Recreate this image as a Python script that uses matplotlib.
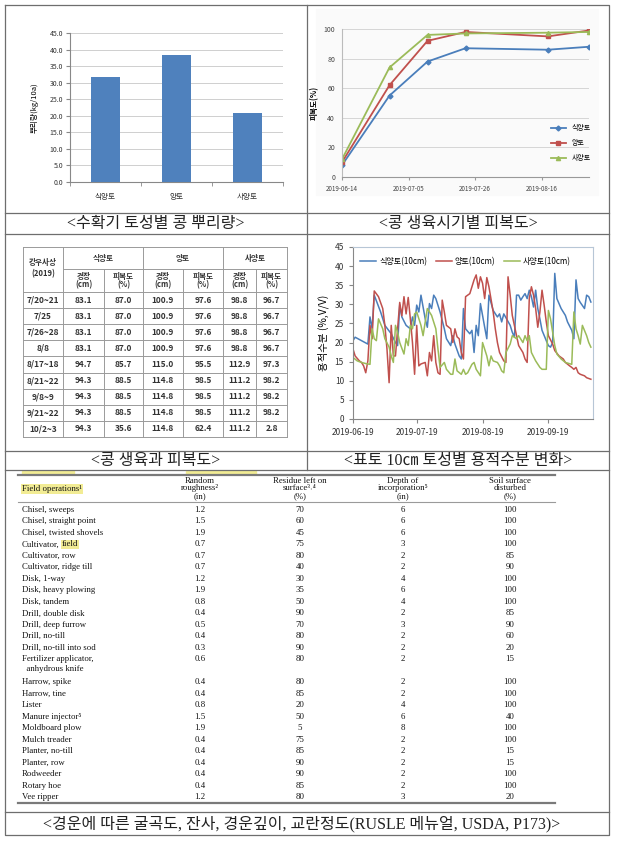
import numpy as np
import matplotlib
matplotlib.use('Agg')
import matplotlib.pyplot as plt
import matplotlib.dates as mdates

plt.rcParams['font.family'] = ['Noto Sans CJK KR', 'DejaVu Sans']

W, H = 619, 844

# panel 1: root weight by soil texture at harvest
soil_types = ['식양토', '양토', '사양토']
root_weight = [31.7, 38.4, 20.8]

# panel 2: ground cover over the growth period
cover_dates = ['2019-06-14', '2019-06-29', '2019-07-11', '2019-07-23', '2019-08-18', '2019-08-31']
cover_clay_loam = [8, 55, 78, 87, 86, 88]
cover_loam = [10, 62, 92, 98, 95, 99]
cover_sandy_loam = [12, 74, 96, 97, 97.5, 98]

# panel 3: growth / cover table
rain_events = ['7/20~21', '7/25', '7/26~28', '8/8', '8/17~18', '8/21~22', '9/8~9', '9/21~22', '10/2~3']
stem_clay_loam = ['83.1', '83.1', '83.1', '83.1', '94.7', '94.3', '94.3', '94.3', '94.3']
cov_clay_loam = ['87.0', '87.0', '87.0', '87.0', '85.7', '88.5', '88.5', '88.5', '35.6']
stem_loam = ['100.9', '100.9', '100.9', '100.9', '115.0', '114.8', '114.8', '114.8', '114.8']
cov_loam = ['97.6', '97.6', '97.6', '97.6', '95.5', '98.5', '98.5', '98.5', '62.4']
stem_sandy = ['98.8', '98.8', '98.8', '98.8', '112.9', '111.2', '111.2', '111.2', '111.2']
cov_sandy = ['96.7', '96.7', '96.7', '96.7', '97.3', '98.2', '98.2', '98.2', '2.8']

# panel 4: soil moisture at 10 cm (days after 2019-06-19)
sm_days_clay = [0, 1, 7, 8, 9, 10, 13, 15, 18, 20, 21, 22, 23, 25, 27, 28, 29, 30, 31, 32, 34, 35, 36, 37,
                38, 39, 41, 43, 44, 46, 47, 48, 50, 51, 52, 53, 55, 56, 57, 58, 59, 60, 62, 63, 64, 66,
                68, 69, 70, 71, 74, 75, 76, 77, 78, 79, 80, 81, 82, 83, 84, 85, 86, 87, 88, 89, 91, 92,
                93, 94, 95, 96, 98, 100, 101, 103, 104, 105, 106, 107, 109, 110, 111, 112]
sm_clay = [20.5, 21.4, 19.6, 26.7, 23.6, 32.4, 28.0, 24.5, 22.3, 20.0, 19.2, 29.8, 26.7, 24.5, 23.6, 26.7,
           24.5, 29.8, 28.0, 32.4, 26.2, 24.0, 30.2, 28.9, 32.4, 31.5, 28.0, 23.6, 21.0, 19.2, 21.8, 19.6,
           16.5, 15.7, 28.9, 23.6, 22.3, 23.2, 17.4, 24.5, 21.8, 30.2, 24.0, 21.0, 32.4, 28.4, 26.7, 27.5,
           25.4, 27.5, 24.5, 22.7, 21.4, 32.4, 32.4, 31.1, 32.0, 32.8, 31.5, 33.7, 32.0, 29.3, 33.7, 28.9,
           26.2, 23.2, 20.5, 19.2, 18.8, 20.0, 38.1, 31.5, 28.9, 27.1, 25.4, 23.2, 21.0, 36.4, 31.5, 30.5,
           28.9, 32.4, 32.0, 30.6]
sm_days_loam = [0, 1, 3, 4, 5, 6, 7, 8, 9, 10, 12, 14, 15, 16, 17, 18, 19, 20, 21, 22, 23, 24, 25, 26, 27,
                28, 29, 30, 31, 32, 34, 35, 36, 37, 38, 39, 40, 41, 42, 43, 44, 46, 47, 48, 49, 50, 51,
                52, 53, 55, 56, 57, 58, 59, 60, 61, 62, 63, 64, 66, 67, 68, 69, 71, 72, 73, 74, 75, 77,
                78, 80, 81, 82, 83, 84, 85, 86, 87, 88, 89, 90, 91, 92, 94, 95, 97, 99, 100, 102, 103,
                104, 105, 106, 107, 109, 110, 112]
sm_loam = [18.3, 16.5, 15.2, 14.8, 13.9, 12.1, 15.2, 24.5, 21.0, 33.5, 32.0, 28.9, 24.5, 18.3, 9.5, 24.5,
           16.5, 16.5, 23.6, 30.5, 27.0, 32.0, 27.5, 31.8, 26.2, 20.0, 11.7, 24.5, 13.9, 14.4, 14.8, 11.3,
           17.4, 15.2, 21.8, 14.8, 12.1, 11.7, 31.1, 28.0, 24.5, 23.6, 20.0, 23.6, 21.5, 21.0, 17.4, 15.7,
           32.0, 32.8, 34.6, 36.4, 37.7, 34.2, 37.2, 35.5, 31.5, 37.0, 34.6, 28.0, 23.6, 20.0, 17.4, 15.2,
           14.8, 37.2, 32.4, 27.1, 21.8, 19.2, 17.4, 15.7, 14.8, 31.5, 34.6, 32.4, 28.9, 24.0, 28.0, 33.7,
           29.8, 25.4, 21.8, 19.6, 17.9, 16.5, 15.7, 14.8, 13.9, 13.5, 13.0, 13.5, 12.1, 11.7, 11.3, 10.8,
           10.4]
sm_days_sandy = [0, 2, 4, 6, 8, 9, 10, 11, 12, 14, 15, 17, 18, 19, 20, 21, 22, 24, 25, 26, 27, 28, 29, 30,
                 32, 33, 34, 35, 37, 39, 40, 41, 43, 44, 46, 47, 48, 49, 51, 52, 53, 54, 56, 57, 58, 60,
                 61, 63, 64, 65, 66, 68, 69, 70, 71, 72, 74, 75, 77, 78, 80, 81, 82, 83, 84, 86, 88, 89,
                 91, 92, 93, 95, 96, 98, 100, 103, 104, 105, 106, 107, 108, 110, 111, 112]
sm_sandy = [16.1, 15.2, 14.8, 14.5, 14.3, 23.6, 21.0, 20.5, 26.2, 23.6, 21.0, 18.8, 16.5, 14.8, 24.5, 22.7,
            20.0, 17.0, 21.0, 19.2, 24.5, 23.6, 27.5, 28.0, 24.5, 21.8, 25.4, 28.9, 27.1, 23.6, 18.3, 13.5,
            14.8, 13.0, 11.7, 11.7, 15.7, 12.6, 11.7, 13.0, 11.7, 12.1, 14.3, 14.8, 13.0, 11.3, 20.0, 16.5,
            13.9, 16.5, 15.2, 14.8, 13.9, 12.6, 12.1, 17.4, 19.6, 21.8, 21.0, 21.8, 20.0, 21.8, 20.5, 21.8,
            17.4, 15.2, 13.5, 13.0, 13.0, 28.4, 26.2, 19.2, 17.0, 15.7, 14.8, 14.3, 28.0, 23.6, 21.8, 19.6,
            24.5, 21.8, 20.0, 18.8]

# bottom table: RUSLE field operations
operations = ['Chisel, sweeps', 'Chisel, straight point', 'Chisel, twisted shovels', 'Cultivator, field',
              'Cultivator, row', 'Cultivator, ridge till', 'Disk, 1-way', 'Disk, heavy plowing',
              'Disk, tandem', 'Drill, double disk', 'Drill, deep furrow', 'Drill, no-till',
              'Drill, no-till into sod', 'Fertilizer applicator,\n  anhydrous knife', 'Harrow, spike',
              'Harrow, tine', 'Lister', 'Manure injector⁵', 'Moldboard plow', 'Mulch treader',
              'Planter, no-till', 'Planter, row', 'Rodweeder', 'Rotary hoe', 'Vee ripper']
roughness = ['1.2', '1.5', '1.9', '0.7', '0.7', '0.7', '1.2', '1.9', '0.8', '0.4', '0.5', '0.4', '0.3',
             '0.6', '0.4', '0.4', '0.8', '1.5', '1.9', '0.4', '0.4', '0.4', '0.4', '0.4', '1.2']
residue = ['70', '60', '45', '75', '80', '40', '30', '35', '50', '90', '70', '80', '90', '80', '80', '85',
           '20', '50', '5', '75', '85', '90', '90', '85', '80']
depth = ['6', '6', '6', '3', '2', '2', '4', '6', '4', '2', '3', '2', '2', '2', '2', '2', '4', '6', '8', '2',
         '2', '2', '2', '2', '3']
disturbed = ['100', '100', '100', '100', '85', '90', '100', '100', '100', '85', '90', '60', '20', '15',
             '100', '100', '100', '40', '100', '100', '15', '15', '100', '100', '20']

captions = ['<수확기 토성별 콩 뿌리량>', '<콩 생육시기별 피복도>', '<콩 생육과 피복도>',
            '<표토 10㎝ 토성별 용적수분 변화>',
            '<경운에 따른 굴곡도, 잔사, 경운깊이, 교란정도(RUSLE 메뉴얼, USDA, P173)>']

BLUE, RED, GREEN = '#4a7ebb', '#c0504d', '#9bbb59'
CAP_FONT = ['Liberation Serif', 'Noto Sans CJK KR']
TAB_FONT = ['Liberation Serif', 'DejaVu Serif']


def px_axes(fig, x0, y0, x1, y1):
    return fig.add_axes([x0 / W, 1 - y1 / H, (x1 - x0) / W, (y1 - y0) / H])


fig = plt.figure(figsize=(W / 100, H / 100), dpi=100)
bg = fig.add_axes([0, 0, 1, 1])
bg.set_xlim(0, W)
bg.set_ylim(H, 0)
bg.axis('off')

# frame of the composite
frame = dict(color='#6e6e6e', lw=0.9)
bg.plot([5, 609, 609, 5, 5], [5, 5, 835, 835, 5], **frame)
bg.plot([307, 307], [5, 470], **frame)
for yy in [213, 234, 451, 470, 812]:
    bg.plot([5, 609], [yy, yy], **frame)

cap = dict(ha='center', va='center', fontsize=11.5, family=CAP_FONT, color='#222')
bg.text(156, 224, captions[0], **cap)
bg.text(458, 224, captions[1], **cap)
bg.text(156, 461, captions[2], **cap)
bg.text(458, 461, captions[3], **cap)
bg.text(302, 824, captions[4], **cap)

# ---------- panel 1: bar chart
ax1 = px_axes(fig, 70, 33, 283, 182)
xs = np.arange(len(soil_types))
ax1.bar(xs, root_weight, width=0.4, color='#4f81bd', zorder=3)
ax1.set_xlim(-0.5, 2.5)
ax1.set_ylim(0, 45)
ax1.set_yticks(np.arange(0, 46, 5))
ax1.set_yticklabels([f'{v:.1f}' for v in np.arange(0, 46, 5)], fontsize=5, color='#333')
ax1.set_xticks(xs)
ax1.set_xticklabels(soil_types, fontsize=5.5, color='#333')
ax1.set_xticks([-0.5, 0.5, 1.5, 2.5], minor=True)
ax1.tick_params(axis='x', which='major', length=0, pad=8)
ax1.tick_params(axis='x', which='minor', length=3, color='#888')
ax1.tick_params(axis='y', length=3, color='#888', pad=2)
ax1.grid(axis='y', color='#c8c8c8', lw=0.6, zorder=0)
for s in ['top', 'right']:
    ax1.spines[s].set_visible(False)
ax1.spines['left'].set_color('#888')
ax1.spines['bottom'].set_color('#888')
ax1.set_ylabel('뿌리량(kg/10a)', fontsize=5.5, labelpad=8)

# ---------- panel 2: ground cover lines
bg.add_patch(plt.Rectangle((316, 9), 282, 186, color='#fafafa', zorder=0))
ax2 = px_axes(fig, 342, 29, 589, 177)
ax2.set_facecolor('#fafafa')
dts = np.array(cover_dates, dtype='datetime64[D]')
ax2.plot(dts, cover_clay_loam, color=BLUE, lw=1.3, marker='D', ms=2.5, label='식양토')
ax2.plot(dts, cover_loam, color=RED, lw=1.3, marker='s', ms=3, label='양토')
ax2.plot(dts, cover_sandy_loam, color=GREEN, lw=1.3, marker='^', ms=3, label='사양토')
ax2.set_ylim(0, 100)
ax2.set_yticks(range(0, 101, 20))
ax2.set_xlim(dts[0], dts[-1])
ax2.set_xticks(np.array(['2019-06-14', '2019-07-05', '2019-07-26', '2019-08-16'], dtype='datetime64[D]'))
ax2.xaxis.set_major_formatter(mdates.DateFormatter('%Y-%m-%d'))
ax2.tick_params(axis='x', labelsize=4.5, length=2, color='#999', labelcolor='#444', pad=4)
ax2.tick_params(axis='y', labelsize=5, length=0, labelcolor='#444', pad=5)
ax2.grid(axis='y', color='#d0d0d0', lw=0.6)
for s in ['top', 'right']:
    ax2.spines[s].set_visible(False)
ax2.spines['left'].set_color('#bbb')
ax2.spines['bottom'].set_color('#999')
ax2.set_ylabel('피복도(%)', fontsize=5.5, labelpad=3, weight='bold')
ax2.legend(loc='upper left', bbox_to_anchor=(0.82, 0.4), frameon=False, fontsize=5,
           handlelength=2.2, labelspacing=1.0)

# ---------- panel 3: table
cx = [23, 63, 104, 143, 183, 223, 256, 287]
ry = [247, 269, 292] + [292 + 16.1 * (i + 1) for i in range(9)]
tl = dict(color='#9a9a9a', lw=0.7)
for yy in [ry[0], ry[2]] + ry[3:]:
    bg.plot([cx[0], cx[-1]], [yy, yy], **tl)
bg.plot([cx[1], cx[-1]], [ry[1], ry[1]], **tl)
for xx in [cx[0], cx[1], cx[3], cx[5], cx[7]]:
    bg.plot([xx, xx], [ry[0], ry[-1]], **tl)
for xx in [cx[2], cx[4], cx[6]]:
    bg.plot([xx, xx], [ry[1], ry[-1]], **tl)

hd = dict(ha='center', va='center', fontsize=5.5, color='#333', weight='bold')
bg.text(43, 262, '강우사상', **hd)
bg.text(43, 274, '(2019)', **hd)
for (a, b), name in zip([(1, 3), (3, 5), (5, 7)], soil_types):
    bg.text((cx[a] + cx[b]) / 2, 258, name, **hd)
    bg.text((cx[a] + cx[a + 1]) / 2, 280.5, '경장\n(cm)', linespacing=1.0, **hd)
    bg.text((cx[a + 1] + cx[b]) / 2, 280.5, '피복도\n(%)', linespacing=1.0, **hd)
cols = [rain_events, stem_clay_loam, cov_clay_loam, stem_loam, cov_loam, stem_sandy, cov_sandy]
for j, col in enumerate(cols):
    xc = (cx[j] + cx[j + 1]) / 2
    for i, v in enumerate(col):
        bg.text(xc, (ry[i + 2] + ry[i + 3]) / 2, v, ha='center', va='center', fontsize=6,
                color='#333', weight='bold')

# ---------- panel 4: soil moisture
ax4 = px_axes(fig, 353, 247, 593, 419)
base = np.datetime64('2019-06-19')
ax4.plot(base + np.array(sm_days_clay).astype('timedelta64[D]'), sm_clay, color=BLUE, lw=1.1,
         label='식양토(10cm)')
ax4.plot(base + np.array(sm_days_loam).astype('timedelta64[D]'), sm_loam, color=RED, lw=1.1,
         label='양토(10cm)')
ax4.plot(base + np.array(sm_days_sandy).astype('timedelta64[D]'), sm_sandy, color=GREEN, lw=1.1,
         label='사양토(10cm)')
ax4.set_ylim(0, 45)
ax4.set_yticks(range(0, 46, 5))
ax4.set_xlim(base, base + np.timedelta64(113, 'D'))
ax4.set_xticks(np.array(['2019-06-19', '2019-07-19', '2019-08-19', '2019-09-19'], dtype='datetime64[D]'))
ax4.xaxis.set_major_formatter(mdates.DateFormatter('%Y-%m-%d'))
ax4.tick_params(labelsize=6, labelcolor='#333', length=3, color='#888')
for s in ax4.spines.values():
    s.set_color('#b7c6d6')
ax4.spines['left'].set_color('#888')
ax4.spines['bottom'].set_color('#888')
ax4.set_ylabel('용적수분 (%,V/V)', fontsize=7.5, labelpad=4)
ax4.legend(loc='upper left', bbox_to_anchor=(0.0, 0.985), ncol=3, frameon=False, fontsize=5.8,
           handlelength=2.0, columnspacing=1.0, handletextpad=0.4)

# ---------- bottom table
HL = '#f2ec94'
bt = dict(fontsize=6.3, color='#111', family=TAB_FONT)
col_x = [200, 300, 403, 510]
# sliver of the highlighted row cut off above the table
bg.add_patch(plt.Rectangle((22, 471), 52, 2.5, color=HL, zorder=1))
bg.add_patch(plt.Rectangle((186, 471), 70, 2.5, color=HL, zorder=1))
bg.plot([18, 555], [475, 475], color='#7a7a7a', lw=1.6)
bg.plot([18, 555], [502, 502], color='#9a9a9a', lw=0.8)
bg.plot([18, 555], [803, 803], color='#7a7a7a', lw=1.6)

bg.text(22, 489, 'Field operations¹', ha='left', va='center',
        bbox=dict(facecolor=HL, edgecolor='none', pad=0.6), **bt)
heads = [['Random', 'roughness²', '(in)'], ['Residue left on', 'surface³˒⁴', '(%)'],
         ['Depth of', 'incorporation⁵', '(in)'], ['Soil surface', 'disturbed', '(%)']]
for xc, lines in zip(col_x, heads):
    for k, line in enumerate(lines):
        bg.text(xc, 481 + 7.5 * k, line, ha='center', va='center', **bt)

r = fig.canvas.get_renderer()
inv = bg.transData.inverted()
row_y = 510
step = 11.48
for i, name in enumerate(operations):
    if name == 'Cultivator, field':
        t = bg.text(22, row_y, 'Cultivator,', ha='left', va='center', **bt)
        x_end = inv.transform((t.get_window_extent(renderer=r).x1, 0))[0]
        bg.text(x_end + 2.2, row_y, 'field', ha='left', va='center',
                bbox=dict(facecolor=HL, edgecolor='none', pad=0.4), **bt)
    else:
        bg.text(22, row_y + (5 if '\n' in name else 0), name, ha='left', va='center',
                linespacing=1.35, **bt)
    for xc, col in zip(col_x, [roughness, residue, depth, disturbed]):
        bg.text(xc, row_y, col[i], ha='center', va='center', **bt)
    row_y += step * (2 if '\n' in name else 1)

fig.savefig('out.png', dpi=100)
